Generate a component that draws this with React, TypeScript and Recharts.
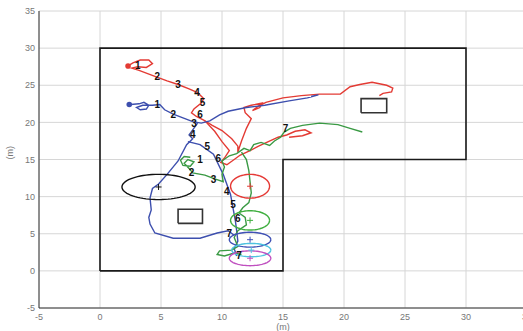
import { ComposedChart, Line, Scatter, XAxis, YAxis, CartesianGrid, LabelList } from 'recharts'

type P = [number, number]

const axisTicks = [-5, 0, 5, 10, 15, 20, 25, 30, 35]

// room outline and obstacles (m)
const room: P[] = [[0, 0], [0, 30], [30, 30], [30, 15], [15, 15], [15, 0], [0, 0]]
const boxA: P[] = [[6.4, 6.4], [6.4, 8.3], [8.4, 8.3], [8.4, 6.4], [6.4, 6.4]]
const boxB: P[] = [[21.4, 21.3], [21.4, 23.2], [23.5, 23.2], [23.5, 21.3], [21.4, 21.3]]

// error ellipses: black, red, green, blue, cyan, magenta
const ellipseCx = [4.8, 12.3, 12.3, 12.3, 12.4, 12.3]
const ellipseCy = [11.3, 11.4, 6.8, 4.2, 2.8, 1.7]
const ellipseRx = [3.0, 1.6, 1.6, 1.7, 1.6, 1.7]
const ellipseRy = [1.7, 1.6, 1.3, 1.0, 0.9, 1.0]

const redPathA: P[] = [
  [2.3, 27.6], [2.7, 28.0], [3.3, 28.4], [4.0, 28.4], [4.3, 27.9], [3.8, 27.4], [3.1, 27.5], [2.6, 27.3],
  [3.2, 27.0], [4.5, 26.2], [5.5, 25.6], [6.4, 25.1], [7.3, 24.5], [8.0, 24.0], [8.5, 23.2], [8.3, 22.6],
  [7.7, 21.8], [7.5, 21.3], [7.9, 20.8], [8.5, 20.3], [9.2, 19.6], [10.0, 18.9], [10.8, 17.8], [11.3, 16.8],
  [11.3, 16.0], [11.6, 17.5], [12.0, 19.2], [12.4, 20.5], [11.9, 21.3], [11.8, 22.0], [12.4, 22.3],
  [13.3, 22.6], [13.1, 22.0], [12.5, 21.6], [13.0, 22.2], [13.6, 22.7], [15.0, 23.3], [16.5, 23.6],
  [18.0, 23.8], [19.7, 23.8], [20.5, 24.8], [21.3, 25.1], [22.3, 25.4], [23.5, 25.0], [24.0, 24.6],
  [23.9, 24.1], [23.2, 23.9], [22.9, 23.6],
]
const redPathB: P[] = [
  [8.6, 20.2], [9.4, 18.8], [10.0, 17.4], [10.6, 16.2], [10.2, 15.2], [9.9, 14.6], [10.4, 14.3],
  [11.0, 15.0], [11.5, 15.6], [12.3, 16.2], [13.0, 16.8], [13.8, 17.4], [14.6, 18.0], [15.3, 18.3],
  [16.0, 18.8], [16.8, 19.0], [17.3, 18.6], [16.6, 18.2], [15.5, 18.0],
]
const bluePathA: P[] = [
  [2.5, 22.4], [3.2, 22.5], [3.6, 22.7], [4.0, 22.3], [3.8, 21.8], [3.3, 21.7], [3.0, 22.0], [3.5, 22.3],
  [4.3, 22.3], [4.9, 22.4], [5.3, 21.7], [6.0, 21.1], [6.8, 20.6], [7.6, 20.1], [8.3, 19.9], [9.0, 20.2],
  [9.8, 21.0], [10.5, 21.5], [12.0, 22.0], [13.5, 22.3], [15.5, 22.9], [17.0, 23.3], [17.9, 23.7], [17.3, 23.5],
]
const bluePathB: P[] = [
  [8.0, 19.9], [7.6, 19.0], [7.3, 18.3], [7.6, 17.8], [7.1, 17.0], [6.4, 14.8], [5.5, 13.0], [4.8, 11.7],
  [4.3, 11.1], [4.1, 9.8], [4.2, 8.2], [4.0, 7.2], [4.1, 6.3], [4.5, 5.1], [6.0, 4.4], [8.2, 4.4],
  [9.6, 5.1], [10.5, 5.4], [11.0, 4.8],
]
const bluePathC: P[] = [
  [7.2, 17.4], [8.2, 17.0], [9.3, 15.7], [10.1, 13.0], [10.7, 10.3], [10.9, 8.5], [11.1, 6.7],
  [11.2, 5.4], [11.3, 4.0], [11.0, 3.0], [11.2, 2.0],
]
const greenPathA: P[] = [
  [7.4, 15.3], [6.9, 15.4], [6.6, 14.9], [6.8, 14.2], [7.4, 14.1], [7.7, 14.7], [7.2, 15.0], [6.9, 14.5],
  [7.3, 13.8], [7.6, 13.2], [8.6, 12.9], [9.4, 12.4], [10.1, 12.0], [10.0, 13.0], [10.2, 14.0], [10.0, 14.8],
  [10.6, 15.5], [11.2, 15.8], [11.8, 16.5], [12.3, 16.2], [12.6, 17.0], [13.2, 17.3], [13.9, 16.9],
  [14.3, 17.5], [14.8, 18.0], [15.1, 18.7], [15.6, 19.2], [16.6, 19.6], [18.0, 19.9], [19.5, 19.7],
  [20.5, 19.2], [21.5, 18.7],
]
const greenPathB: P[] = [
  [11.6, 16.0], [12.0, 15.0], [12.2, 13.5], [12.3, 12.0], [12.4, 10.5], [12.2, 9.2], [11.7, 8.5],
  [11.4, 7.8], [11.9, 7.2], [12.0, 6.2], [11.3, 5.4], [11.0, 4.5], [11.3, 3.3], [10.8, 2.8], [9.8, 2.7],
  [9.6, 2.2], [10.2, 2.0], [11.0, 2.4], [11.6, 2.2],
]

const startDots = [{ x: 2.3, y: 27.6 }, { x: 2.4, y: 22.4 }]

const stepLabels = [
  { x: 3.1, y: 27.7, t: '1' }, { x: 4.7, y: 26.2, t: '2' }, { x: 6.4, y: 25.1, t: '3' },
  { x: 7.95, y: 24.0, t: '4' }, { x: 8.4, y: 22.7, t: '5' }, { x: 8.2, y: 21.1, t: '6' },
  { x: 4.7, y: 22.4, t: '1' }, { x: 6.0, y: 21.1, t: '2' }, { x: 7.7, y: 19.9, t: '3' },
  { x: 7.6, y: 18.4, t: '4' }, { x: 8.8, y: 16.8, t: '5' }, { x: 9.7, y: 15.2, t: '6' },
  { x: 8.2, y: 15.0, t: '1' }, { x: 7.5, y: 13.2, t: '2' }, { x: 9.3, y: 12.3, t: '3' },
  { x: 10.4, y: 10.7, t: '4' }, { x: 10.9, y: 8.9, t: '5' }, { x: 11.3, y: 7.0, t: '6' },
  { x: 10.6, y: 5.1, t: '7' }, { x: 11.4, y: 2.1, t: '7' }, { x: 15.2, y: 19.2, t: '7' },
]

const ellipseColors = ['#111111', '#e53935', '#3fae3f', '#3f51b5', '#4fc3e0', '#c050c0']
const RED = '#e33b34'
const BLUE = '#3d4fae'
const GREEN = '#3a9a44'

const pts = (a: P[]) => a.map(([x, y]) => ({ x, y }))

const ellipsePts = (i: number) =>
  Array.from({ length: 73 }, (_, k) => {
    const a = (k / 72) * Math.PI * 2
    return { x: ellipseCx[i] + ellipseRx[i] * Math.cos(a), y: ellipseCy[i] + ellipseRy[i] * Math.sin(a) }
  })

const centers = ellipseCx.map((cx, i) => ({ x: cx, y: ellipseCy[i], c: ellipseColors[i] }))

const Plus = (props: any) => {
  const { cx, cy, payload } = props
  return <path d={`M${cx - 3},${cy}h6M${cx},${cy - 3}v6`} stroke={payload.c} strokeWidth={1} />
}

const series = [
  { d: pts(room), c: '#1a1a1a', w: 1.6 },
  { d: pts(boxA), c: '#333', w: 1.6 },
  { d: pts(boxB), c: '#333', w: 1.6 },
  { d: pts(redPathA), c: RED, w: 1.4 },
  { d: pts(redPathB), c: RED, w: 1.4 },
  { d: pts(bluePathA), c: BLUE, w: 1.4 },
  { d: pts(bluePathB), c: BLUE, w: 1.4 },
  { d: pts(bluePathC), c: BLUE, w: 1.4 },
  { d: pts(greenPathA), c: GREEN, w: 1.4 },
  { d: pts(greenPathB), c: GREEN, w: 1.4 },
  ...ellipseCx.map((_, i) => ({ d: ellipsePts(i), c: ellipseColors[i], w: 1.4 })),
]

const tickStyle = { fontSize: 9, fill: '#777', fontFamily: 'Liberation Sans, Arial, sans-serif' }

export default function App() {
  return (
    <div style={{ position: 'fixed', left: 0, top: 0, width: 523, height: 331, overflow: 'hidden', background: '#fff' }}>
      <ComposedChart width={540} height={331} margin={{ top: 11, right: 13, bottom: 0, left: 0 }}>
        <CartesianGrid stroke="#d6d6d6" />
        <XAxis
          type="number"
          dataKey="x"
          domain={[-5, 35]}
          ticks={axisTicks}
          allowDataOverflow
          height={23}
          tickSize={0}
          tickMargin={6}
          tick={tickStyle}
          stroke="#333"
          label={{ value: '(m)', position: 'insideBottom', offset: 1, style: tickStyle }}
        />
        <YAxis
          type="number"
          dataKey="y"
          domain={[-5, 35]}
          ticks={axisTicks}
          allowDataOverflow
          width={39}
          tickSize={0}
          tickMargin={4}
          tick={tickStyle}
          stroke="#333"
          label={{ value: '(m)', angle: -90, position: 'insideLeft', offset: 10, style: tickStyle }}
        />
        {series.map((s, i) => (
          <Line
            key={i}
            data={s.d}
            dataKey="y"
            type="linear"
            stroke={s.c}
            strokeWidth={s.w}
            dot={false}
            activeDot={false}
            isAnimationActive={false}
            legendType="none"
          />
        ))}
        <Scatter data={centers} dataKey="y" shape={Plus} isAnimationActive={false} />
        <Scatter
          data={startDots.slice(0, 1)}
          dataKey="y"
          shape={(p: any) => <circle cx={p.cx} cy={p.cy} r={2.8} fill={RED} />}
          isAnimationActive={false}
        />
        <Scatter
          data={startDots.slice(1)}
          dataKey="y"
          shape={(p: any) => <circle cx={p.cx} cy={p.cy} r={2.8} fill={BLUE} />}
          isAnimationActive={false}
        />
        <Scatter data={stepLabels} dataKey="y" shape={() => <g />} isAnimationActive={false}>
          <LabelList
            dataKey="t"
            position="center"
            style={{ fontSize: 10, fontWeight: 'bold', fill: '#111', fontFamily: 'Liberation Sans, Arial, sans-serif' }}
          />
        </Scatter>
      </ComposedChart>
    </div>
  )
}
